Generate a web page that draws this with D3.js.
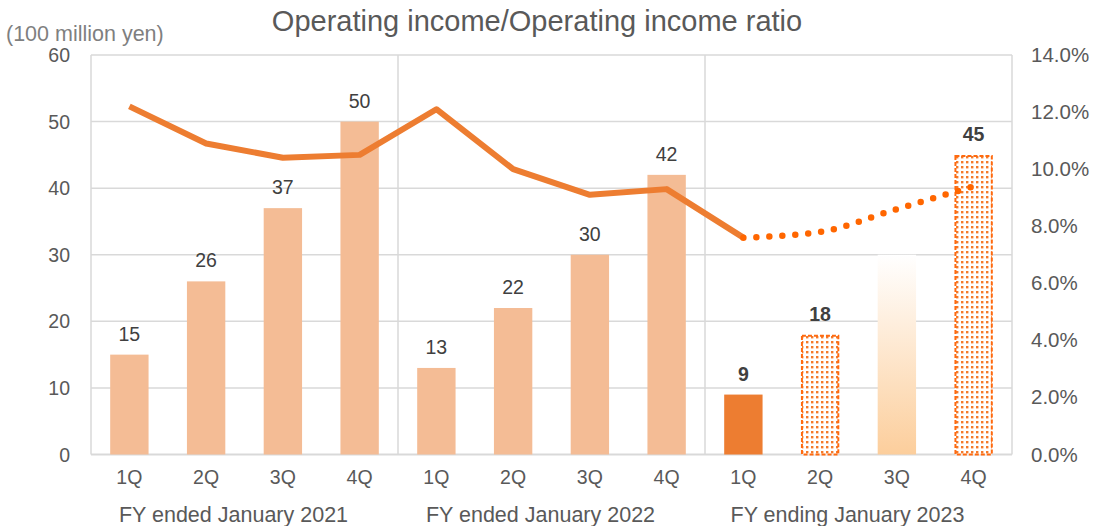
<!DOCTYPE html>
<html>
<head>
<meta charset="utf-8">
<script src="https://cdn.jsdelivr.net/npm/d3@7"></script>
<style>
  html, body { margin: 0; padding: 0; background: #fff; }
  svg { display: block; font-family: "Liberation Sans", Arial, sans-serif; }
</style>
</head>
<body>
<svg id="chart" width="1095" height="526"></svg>
<script>
// Quarterly operating income (100 million yen) and operating income ratio (%)
const fiscalYears = ["FY ended January 2021", "FY ended January 2022", "FY ending January 2023"];
const quarters = ["1Q", "2Q", "3Q", "4Q"];
const incomeValues = [15, 26, 37, 50, 13, 22, 30, 42, 9, 18, 30, 45];
// bar style per quarter: past results, current result, forecast (dotted), outlook (faded)
const barKinds = ["past", "past", "past", "past", "past", "past", "past", "past",
                  "actual", "forecast", "outlook", "forecast"];
const showLabel = [true, true, true, true, true, true, true, true, true, true, false, true];
const ratioActual = [12.2, 10.9, 10.4, 10.5, 12.1, 10.0, 9.1, 9.3, 7.6];
const ratioForecast = [7.6, 7.8, 8.6, 9.4];   // from FY2023 1Q onward
const leftTicks = [0, 10, 20, 30, 40, 50, 60];
const rightTicks = [0, 2, 4, 6, 8, 10, 12, 14];

const svg = d3.select("#chart");
const margin = { left: 91, right: 1012, top: 55, bottom: 454.5 };

const cats = [];
fiscalYears.forEach((fy, i) => quarters.forEach(q => cats.push(i + "-" + q)));

const x = d3.scaleBand().domain(cats).range([margin.left, margin.right]).paddingInner(0.5).paddingOuter(0.25);
const yL = d3.scaleLinear().domain([0, 60]).range([margin.bottom, margin.top]);
const yR = d3.scaleLinear().domain([0, 14]).range([margin.bottom, margin.top]);
const step = x.step();
const cx = i => x(cats[i]) + x.bandwidth() / 2;

const defs = svg.append("defs");
const pat = defs.append("pattern").attr("id", "dots").attr("patternUnits", "userSpaceOnUse")
  .attr("width", 5).attr("height", 5);
pat.append("rect").attr("width", 5).attr("height", 5).attr("fill", "#fff");
pat.append("rect").attr("x", 1).attr("y", 1).attr("width", 2.4).attr("height", 2.4).attr("fill", "#F47A2A");

const grad = defs.append("linearGradient").attr("id", "fade").attr("x1", 0).attr("y1", 0).attr("x2", 0).attr("y2", 1);
grad.append("stop").attr("offset", "0%").attr("stop-color", "#ffffff");
grad.append("stop").attr("offset", "100%").attr("stop-color", "#FCCE9C");

// gridlines
svg.append("g").selectAll("line").data(leftTicks).join("line")
  .attr("x1", margin.left).attr("x2", margin.right)
  .attr("y1", d => yL(d)).attr("y2", d => yL(d))
  .attr("stroke", "#D9D9D9").attr("stroke-width", d => d === 0 ? 2 : 1.5);

// frame sides and fiscal-year separators
const seps = [0, 4, 8, 12].map(k => margin.left + k * step);
svg.append("g").selectAll("line").data(seps).join("line")
  .attr("x1", d => d).attr("x2", d => d)
  .attr("y1", margin.top).attr("y2", margin.bottom)
  .attr("stroke", "#D9D9D9").attr("stroke-width", 1.5);

// bars
const bars = svg.append("g");
incomeValues.forEach((v, i) => {
  const kind = barKinds[i];
  const r = bars.append("rect")
    .attr("x", x(cats[i])).attr("width", x.bandwidth())
    .attr("y", yL(v)).attr("height", yL(0) - yL(v));
  if (kind === "past") r.attr("fill", "#F4BC95");
  else if (kind === "actual") r.attr("fill", "#ED7D31");
  else if (kind === "outlook") r.attr("fill", "url(#fade)");
  else {
    r.attr("fill", "url(#dots)")
      .attr("x", x(cats[i]) + 1).attr("width", x.bandwidth() - 2)
      .attr("y", yL(v) + 1).attr("height", yL(0) - yL(v) - 1)
      .attr("stroke", "#FF6A0F").attr("stroke-width", 2).attr("stroke-dasharray", "4 2");
  }
});

// value labels
svg.append("g").selectAll("text").data(incomeValues.map((v, i) => ({ v, i })).filter(d => showLabel[d.i]))
  .join("text")
  .attr("x", d => cx(d.i)).attr("y", d => yL(d.v) - 14)
  .attr("text-anchor", "middle").attr("font-size", 19.5)
  .attr("font-weight", d => d.i >= 8 ? "bold" : "normal")
  .attr("fill", "#404040")
  .text(d => d.v);

// operating income ratio line (results)
const line = d3.line().x(d => cx(d.i)).y(d => yR(d.v));
svg.append("path")
  .datum(ratioActual.map((v, i) => ({ v, i })))
  .attr("d", line).attr("fill", "none")
  .attr("stroke", "#ED7D31").attr("stroke-width", 6).attr("stroke-linejoin", "round");

// forecast ratio (dotted, smoothed)
svg.append("path")
  .datum(ratioForecast.map((v, k) => ({ v, i: 8 + k })))
  .attr("d", line.curve(d3.curveMonotoneX)).attr("fill", "none")
  .attr("stroke", "#FF6600").attr("stroke-width", 6.5).attr("stroke-linecap", "round")
  .attr("stroke-dasharray", "0 13").attr("stroke-dashoffset", -13);

// left axis labels
svg.append("g").selectAll("text").data(leftTicks).join("text")
  .attr("x", 70).attr("y", d => yL(d) + 7)
  .attr("text-anchor", "end").attr("font-size", 19.5).attr("fill", "#595959")
  .text(d => d);

// right axis labels
svg.append("g").selectAll("text").data(rightTicks).join("text")
  .attr("x", 1031).attr("y", d => yR(d) + 7)
  .attr("font-size", 20.5).attr("fill", "#595959")
  .text(d => d.toFixed(1) + "%");

// quarter labels
svg.append("g").selectAll("text").data(cats).join("text")
  .attr("x", (d, i) => cx(i)).attr("y", 484)
  .attr("text-anchor", "middle").attr("font-size", 19.5).attr("fill", "#595959")
  .text(d => d.split("-")[1]);

// fiscal year labels
svg.append("g").selectAll("text").data(fiscalYears).join("text")
  .attr("x", (d, i) => margin.left + (i * 4 + 2) * step - 11).attr("y", 522)
  .attr("text-anchor", "middle").attr("font-size", 21.5).attr("fill", "#595959")
  .text(d => d);

// unit label and title
svg.append("text").attr("x", 6).attr("y", 41).attr("font-size", 21.5).attr("fill", "#7F7F7F")
  .text("(100 million yen)");
svg.append("text").attr("x", 537).attr("y", 31).attr("text-anchor", "middle")
  .attr("font-size", 29).attr("fill", "#595959")
  .text("Operating income/Operating income ratio");
</script>
</body>
</html>
